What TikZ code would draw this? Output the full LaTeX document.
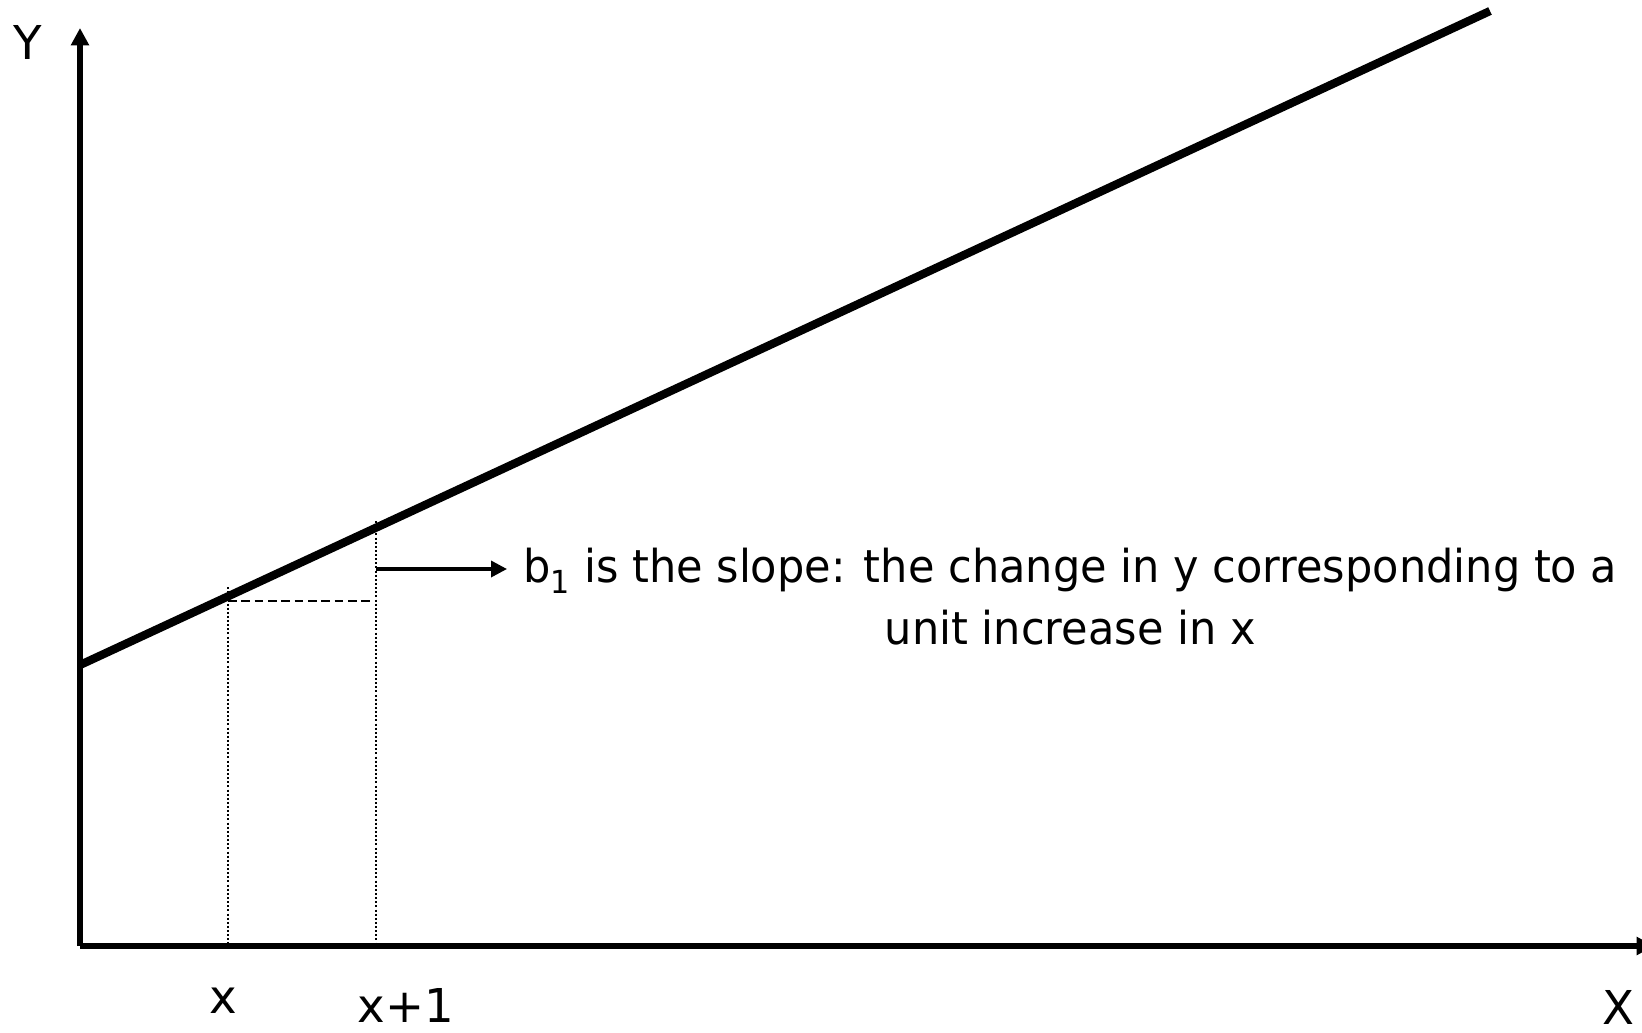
\documentclass[tikz,border=0pt]{standalone}
\usepackage{fontspec}
\setmainfont{DejaVu Sans}
\newfontfamily\slopefont[FakeStretch=0.95]{DejaVu Sans}
\usetikzlibrary{arrows.meta}

\tikzset{
	axisline/.style={line width=3.9pt, -{Triangle[length=13pt,width=13pt]}},
	fitline/.style={line width=6.2pt},
	guide/.style={line width=1.5pt, dash pattern=on 1.5pt off 1.6pt},
	levelline/.style={line width=1.4pt, dash pattern=on 6.5pt off 3.5pt},
	pointer/.style={line width=2.6pt, -{Triangle[length=12pt,width=12pt]}},
	lbl/.style={inner sep=0pt, font=\fontsize{35}{46.5}\selectfont},
}

\begin{document}
\begin{tikzpicture}[x=0.75pt, y=-0.75pt]
			\useasboundingbox (0,0) rectangle (1642,1032);

			% Оси
			\coordinate (O) at (80,946);
			\coordinate (Ytop) at (80,28);
			\coordinate (Xend) at (1654,946);
			\draw[axisline] (O) -- (Ytop);
			\draw[axisline] (O) -- (Xend);
			\node[lbl] (Ylab) at (28,42) {Y};
			\node[lbl, anchor=base] (Xlab) at (1618,1024) {X};

			% Прямая
			\coordinate (A) at (80,665);
			\coordinate (B) at (1490,11);
			\draw[fitline] (A) -- (B);

			% x и x+1
			\coordinate (P1) at (228,601);
			\coordinate (P2) at (376,528);
			\draw[guide] (228,587) coordinate (g1) -- (g1 |- O);
			\draw[guide] (376,521) coordinate (g2) -- (g2 |- O);
			\draw[levelline] (P1) -- (370,601) coordinate (L2);
			\node[lbl, anchor=base] (xlab) at (223,1013) {x};
			\node[lbl, anchor=base] (x1lab) at (406,1022) {x+1};

			% Подпись
			\coordinate (S) at (376,569);
			\node[lbl, font=\fontsize{34}{46.5}\selectfont\slopefont, align=center, anchor=base west] (slope) at (523,644)
				{b\textsubscript{1} is the slope: the change in y corresponding to a\\unit increase in x};
			\draw[pointer] (S) -- (507,569) coordinate (T);
		\end{tikzpicture}
\end{document}
